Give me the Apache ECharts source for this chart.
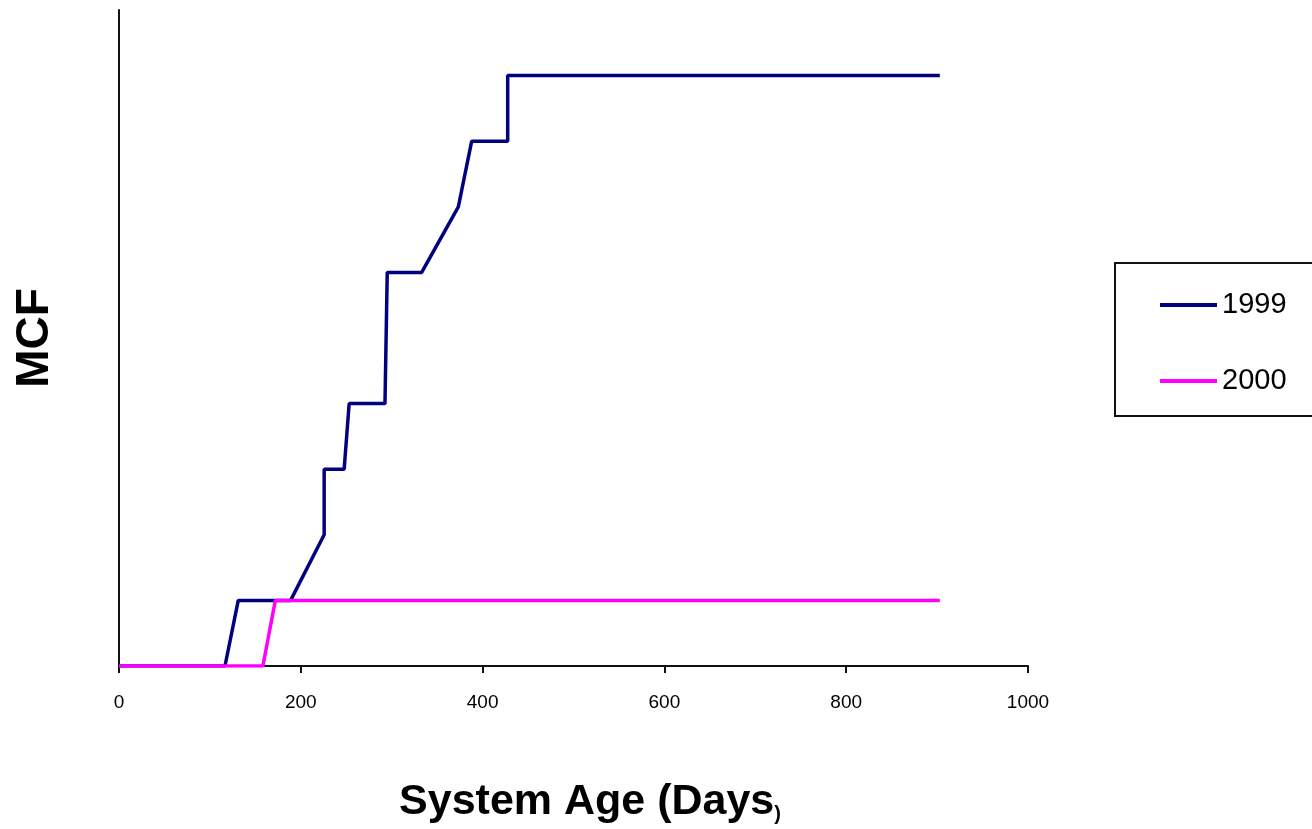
<!DOCTYPE html>
<html>
<head>
<meta charset="utf-8">
<script src="https://cdn.jsdelivr.net/npm/echarts@6/dist/echarts.min.js"></script>
<style>html,body{margin:0;padding:0;background:#fff}#c{width:1312px;height:829px}</style>
</head>
<body>
<div id="c"></div>
<script>
const seriesNames = ['1999', '2000'];
const days1999 = [0, 116.6, 131.2, 188.8, 225.7, 225.7, 247.7, 253.2, 292.6, 295.1, 333, 373.3, 388, 427.6, 427.6, 903];
const mcf1999  = [0, 0, 1, 1, 2, 3, 3, 4, 4, 6, 6, 7, 8, 8, 9, 9];
const days2000 = [0, 158.3, 172, 903];
const mcf2000  = [0, 0, 1, 1];
const xTicks = [0, 200, 400, 600, 800, 1000];

const pairs = (xs, ys) => xs.map((x, i) => [x, ys[i]]);
const chart = echarts.init(document.getElementById('c'), null, {renderer: 'canvas'});
const font = 'Liberation Sans, Arial, sans-serif';
chart.setOption({
  animation: false,
  backgroundColor: '#fff',
  grid: {left: 119, right: 284, top: 10, bottom: 162},
  xAxis: {
    type: 'value', min: xTicks[0], max: xTicks[xTicks.length - 1], interval: 200,
    splitLine: {show: false},
    axisLine: {lineStyle: {color: '#111', width: 2}},
    axisTick: {show: true, inside: false, length: 7, lineStyle: {color: '#111', width: 2}},
    axisLabel: {fontSize: 19, color: '#000', fontFamily: font, margin: 27, formatter: v => String(v)},
    name: 'System Age (Days{s|)}',
    nameLocation: 'middle', nameGap: 115,
    nameTextStyle: {fontSize: 43, fontWeight: 'bold', color: '#000', fontFamily: font, padding: [0, 0, 0, 33],
      rich: {s: {fontSize: 20, fontWeight: 'bold', color: '#000', fontFamily: font, verticalAlign: 'bottom', padding: [20, 0, 0, 0]}}}
  },
  yAxis: {
    type: 'value', min: 0, max: 10,
    splitLine: {show: false},
    axisLine: {show: true, lineStyle: {color: '#111', width: 2}},
    axisTick: {show: false},
    axisLabel: {show: false},
    name: 'MCF', nameLocation: 'middle', nameRotate: 90, nameGap: 61,
    nameTextStyle: {fontSize: 46, fontWeight: 'bold', color: '#000', fontFamily: font}
  },
  legend: {
    orient: 'vertical', left: 1155, top: 285, itemGap: 46,
    itemWidth: 57, itemHeight: 4, icon: 'rect',
    textStyle: {fontSize: 29, color: '#000', fontFamily: font, lineHeight: 30},
    data: seriesNames
  },
  graphic: [{
    type: 'rect', left: 1114, top: 262, z: -1,
    shape: {width: 210, height: 153},
    style: {fill: '#fff', stroke: '#111', lineWidth: 2}
  }],
  series: [
    {name: seriesNames[0], type: 'line', data: pairs(days1999, mcf1999), showSymbol: false,
     lineStyle: {color: '#000080', width: 3.5}, itemStyle: {color: '#000080'}},
    {name: seriesNames[1], type: 'line', data: pairs(days2000, mcf2000), showSymbol: false,
     lineStyle: {color: '#ff00ff', width: 3.5}, itemStyle: {color: '#ff00ff'}}
  ]
});
</script>
</body>
</html>
